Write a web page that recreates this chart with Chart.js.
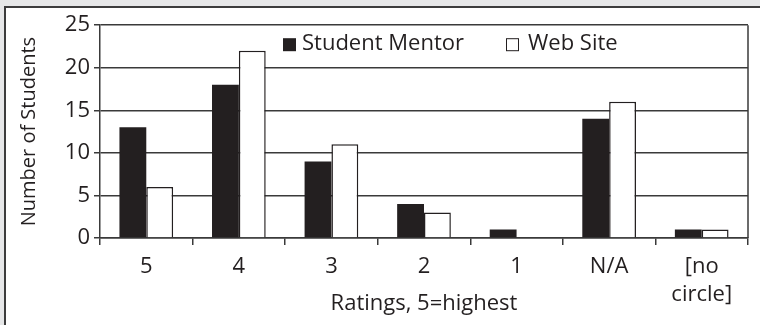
<!DOCTYPE html>
<html>
<head>
<meta charset="utf-8">
<script src="https://cdn.jsdelivr.net/npm/chart.js@4"></script>
<style>
  html, body { margin:0; padding:0; background:#e6e7e8; }
  #frame {
    position:absolute; left:4px; top:6px; width:756px; height:319px;
    background:#fff; border-top:2px solid #3c3c3c; border-left:2px solid #3c3c3c;
  }
  #wrap { position:absolute; left:0; top:0; width:754px; height:317px; }
</style>
</head>
<body>
<div id="frame"><div id="wrap"><canvas id="ratingsChart"></canvas></div></div>
<script>
const ratings = ["5", "4", "3", "2", "1", "N/A", ["[no", "circle]"]];
const mentorCounts = [13, 18, 9, 4, 1, 14, 1];
const webSiteCounts = [6, 22, 11, 3, 0, 16, 1];
const yTicks = [0, 5, 10, 15, 20, 25];

const ink = "#231f20";
const fontFamily = "'Open Sans', 'Noto Sans', sans-serif";

// legend sits inside the plot, plus a closing line on the right side
const insideLegend = {
  id: "insideLegend",
  afterDraw(chart) {
    const ctx = chart.ctx;
    const a = chart.chartArea;
    ctx.save();
    ctx.strokeStyle = "#3a3a3a";
    ctx.lineWidth = 1.5;
    ctx.beginPath();
    ctx.moveTo(a.right, a.top);
    ctx.lineTo(a.right, a.bottom);
    ctx.stroke();

    ctx.font = "22px " + fontFamily;
    ctx.textBaseline = "middle";
    const y = a.top + 19;
    chart.data.datasets.forEach((ds, i) => {
      const x = a.left + (i === 0 ? 183 : 406);
      ctx.fillStyle = ds.backgroundColor;
      ctx.fillRect(x, y - 6, 13, 13);
      if (i === 1) {
        ctx.strokeStyle = ink;
        ctx.lineWidth = 1;
        ctx.strokeRect(x + 0.5, y - 5.5, 12, 12);
      }
      ctx.fillStyle = ink;
      ctx.fillText(ds.label, x + (i === 0 ? 19 : 22), y);
    });
    ctx.restore();
  }
};

new Chart(document.getElementById("ratingsChart"), {
  type: "bar",
  data: {
    labels: ratings,
    datasets: [
      {
        label: "Student Mentor",
        data: mentorCounts,
        backgroundColor: ink,
        borderColor: ink,
        borderWidth: 0
      },
      {
        label: "Web Site",
        data: webSiteCounts,
        backgroundColor: "#ffffff",
        borderColor: ink,
        borderWidth: 1.5,
        borderSkipped: "bottom"
      }
    ]
  },
  options: {
    responsive: true,
    maintainAspectRatio: false,
    animation: false,
    layout: { padding: { top: 15, right: 12, left: 0, bottom: 8 } },
    datasets: { bar: { categoryPercentage: 0.58, barPercentage: 1.0 } },
    plugins: {
      legend: { display: false },
      tooltip: { enabled: false }
    },
    scales: {
      x: {
        offset: true,
        grid: {
          offset: true,
          drawOnChartArea: false,
          drawTicks: true,
          tickLength: 7,
          color: "#3a3a3a",
          lineWidth: 1.5
        },
        border: { color: "#3a3a3a", width: 1.5 },
        ticks: {
          color: ink,
          font: { family: fontFamily, size: 22, lineHeight: 1.27 },
          padding: 8,
          maxRotation: 0,
          autoSkip: false
        },
        title: {
          display: true,
          text: "Ratings, 5=highest",
          color: ink,
          font: { family: fontFamily, size: 22 },
          padding: { top: 0, bottom: 0 }
        },
        afterFit: s => { s.height = 79; }
      },
      y: {
        min: 0,
        max: 25,
        afterBuildTicks: s => { s.ticks = yTicks.map(v => ({ value: v })); },
        grid: {
          color: "#3a3a3a",
          lineWidth: 1.5,
          tickLength: 6
        },
        border: { color: "#3a3a3a", width: 1.5 },
        ticks: {
          color: ink,
          font: { family: fontFamily, size: 22 },
          padding: 4
        },
        title: {
          display: true,
          text: "Number of Students",
          color: ink,
          font: { family: fontFamily, size: 20 },
          padding: { top: 11, bottom: 0 }
        },
        afterFit: s => { s.width = 94; }
      }
    }
  },
  plugins: [insideLegend]
});
</script>
</body>
</html>
